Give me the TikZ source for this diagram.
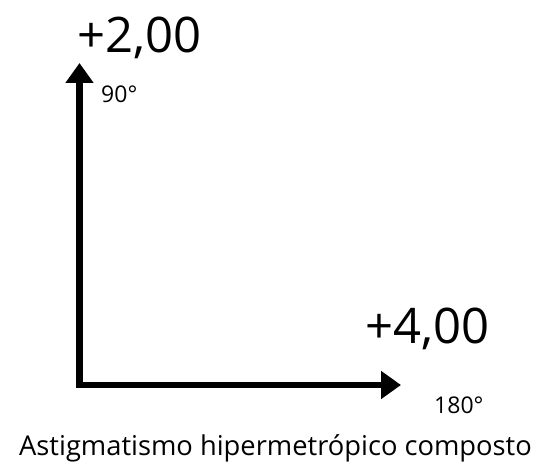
\documentclass[tikz,border=0pt]{standalone}
\usepackage{fontspec}
\setmainfont{Open Sans}
\usetikzlibrary{arrows.meta}
\tikzset{
  ax/line/.style={line width=6.5pt, line join=miter,
    {Triangle[length=20pt,width=27pt]}-{Triangle[length=20pt,width=27pt]}},
  ax/power/.style={font=\fontsize{49}{51}\selectfont, inner sep=0pt, anchor=base west},
  ax/deg/.style={font=\fontsize{23}{25}\selectfont, inner sep=0pt, anchor=base west},
  ax/cap/.style={font=\fontsize{27.3}{29}\selectfont, inner sep=0pt, anchor=base}
}
\begin{document}
\begin{tikzpicture}[x=1pt, y=-1pt]
  \useasboundingbox (0,0) rectangle (554,465);
  \coordinate (o) at (79.5,385);
  \coordinate (top) at (79.5,63);
  \coordinate (right) at (401,385);

  \draw[ax/line] (top) -- (o) -- (right);

  \node[ax/power] (p90) at (77,53) {+2,00};
  \node[ax/deg] (d90) at (101,103) {90°};
  \node[ax/power] (p180) at (365,343) {+4,00};
  \node[ax/deg] (d180) at (434,413) {180°};
  \node[ax/cap] (caption) at (275.5,455.5) {Astigmatismo hipermetrópico composto};
\end{tikzpicture}
\end{document}
